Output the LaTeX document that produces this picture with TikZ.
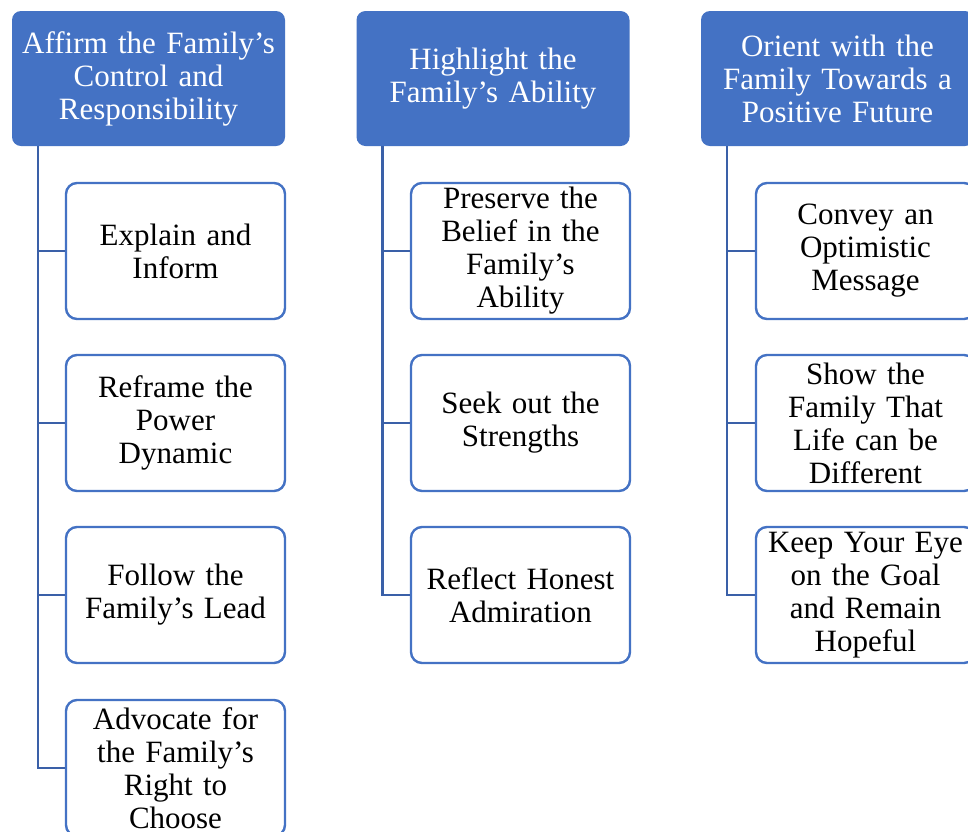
\documentclass[tikz,border=0pt]{standalone}
\usepackage{fontspec}
\setmainfont{Liberation Serif}
\definecolor{hdrblue}{HTML}{4472C4}
\definecolor{linkblue}{HTML}{3A60A8}
\begin{document}
\begin{tikzpicture}[x=1pt,y=-1pt,
  hdr/.style={fill=hdrblue, draw=none, rounded corners=9pt, minimum width=273pt, minimum height=135pt, text width=268pt, align=center, text=white, inner sep=0pt, font=\fontsize{31}{33}\selectfont},
  child/.style={draw=hdrblue, line width=2.4pt, fill=white, rounded corners=11pt, minimum width=219pt, minimum height=136pt, text width=214pt, align=center, text=black, inner sep=0pt, font=\fontsize{31}{33}\selectfont},
  conn/.style={draw=linkblue, line width=2.6pt}]
\useasboundingbox (0,0) rectangle (968,831);
\clip (0,0) rectangle (968,831);
\fill[white] (0,0) rectangle (968,831);
% headers
\node[hdr] (h1) at (148.5,78.5) {Affirm the Family’s\\Control and\\Responsibility};
\node[hdr] (h2) at (493,78.5) {Highlight the\\Family’s Ability};
\node[hdr] (h3) at (837.5,78.5) {Orient with the\\Family Towards a\\Positive Future};
% column 1
\node[child] (c11) at (175.5,251) {Explain and\\Inform};
\node[child] (c12) at (175.5,423) {Reframe the\\Power\\Dynamic};
\node[child] (c13) at (175.5,595) {Follow the\\Family’s Lead};
\node[child] (c14) at (175.5,768) {Advocate for\\the Family’s\\Right to\\Choose};
% column 2
\node[child] (c21) at (520.5,251) {Preserve the\\Belief in the\\Family’s\\Ability};
\node[child] (c22) at (520.5,423) {Seek out the\\Strengths};
\node[child] (c23) at (520.5,595) {Reflect Honest\\Admiration};
% column 3
\node[child] (c31) at (865.5,251) {Convey an\\Optimistic\\Message};
\node[child] (c32) at (865.5,423) {Show the\\Family That\\Life can be\\Different};
\node[child] (c33) at (865.5,595) {Keep Your Eye\\on the Goal\\and Remain\\Hopeful};
% connectors
\foreach \c in {c11,c12,c13,c14}{\draw[conn] ([xshift=26pt]h1.south west) |- (\c.west);}
\foreach \c in {c21,c22,c23}{\draw[conn] ([xshift=26pt]h2.south west) |- (\c.west);}
\foreach \c in {c31,c32,c33}{\draw[conn] ([xshift=26pt]h3.south west) |- (\c.west);}
\end{tikzpicture}
\end{document}
